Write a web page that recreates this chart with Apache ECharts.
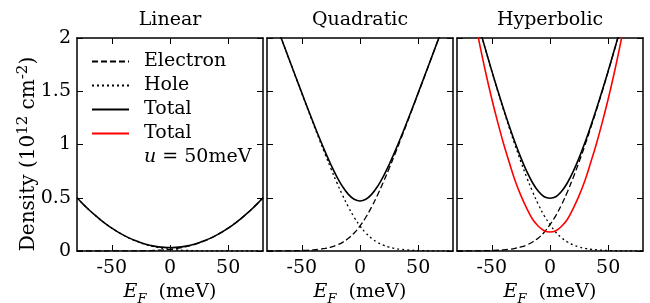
<!DOCTYPE html>
<html><head><meta charset="utf-8">
<script src="https://cdn.jsdelivr.net/npm/echarts@6/dist/echarts.min.js"></script>
<style>html,body{margin:0;padding:0;background:#fff}#c{width:650px;height:303px}</style>
</head><body><div id="c"></div>
<script>
const panelTitles = ['Linear', 'Quadratic', 'Hyperbolic'];
const xTicks = [-50, 0, 50];
const energy = [-80,-75,-70,-65,-60,-55,-50,-45,-40,-35,-30,-25,-20,-15,-10,-5,0,5,10,15,20,25,30,35,40,45,50,55,60,65,70,75,80];

const linElectron = [0,0,0.0001,0.0001,0.0001,0.0002,0.0003,0.0004,0.0006,0.0009,0.0014,0.0021,0.0033,0.0049,0.0074,0.0109,0.0159,0.0227,0.0317,0.0434,0.0578,0.0754,0.0962,0.1205,0.1482,0.1795,0.2144,0.2529,0.2950,0.3408,0.3901,0.4433,0.5000];
const linHole = [0.5000,0.4433,0.3901,0.3408,0.2950,0.2529,0.2144,0.1795,0.1482,0.1205,0.0962,0.0754,0.0578,0.0434,0.0317,0.0227,0.0159,0.0109,0.0074,0.0049,0.0033,0.0021,0.0014,0.0009,0.0006,0.0004,0.0003,0.0002,0.0001,0.0001,0.0001,0,0];
const linTotal = [0.500,0.443,0.390,0.341,0.295,0.253,0.215,0.180,0.149,0.121,0.098,0.078,0.061,0.048,0.039,0.034,0.032,0.034,0.039,0.048,0.061,0.078,0.098,0.121,0.149,0.180,0.215,0.253,0.295,0.341,0.390,0.443,0.500];

const quadElectron = [0.0003,0.0005,0.0008,0.0012,0.0018,0.0028,0.0044,0.0067,0.0103,0.0158,0.0241,0.0365,0.0549,0.0814,0.1187,0.1692,0.2350,0.3166,0.4134,0.5235,0.6444,0.7735,0.9084,1.0474,1.1894,1.3332,1.4782,1.6243,1.7705,1.9172,2.0643,2.2115,2.3587];
const quadHole = [2.3587,2.2115,2.0643,1.9172,1.7705,1.6243,1.4782,1.3332,1.1894,1.0474,0.9084,0.7735,0.6444,0.5235,0.4134,0.3166,0.2350,0.1692,0.1187,0.0814,0.0549,0.0365,0.0241,0.0158,0.0103,0.0067,0.0044,0.0028,0.0018,0.0012,0.0008,0.0005,0.0003];
const quadTotal = [2.359,2.212,2.065,1.918,1.772,1.627,1.483,1.340,1.200,1.063,0.933,0.810,0.699,0.605,0.532,0.486,0.470,0.486,0.532,0.605,0.699,0.810,0.933,1.063,1.200,1.340,1.483,1.627,1.772,1.918,2.065,2.212,2.359];

const hypElectron = [0.0003,0.0005,0.0008,0.0012,0.0019,0.0029,0.0045,0.0069,0.0106,0.0163,0.0249,0.0377,0.0568,0.0843,0.1232,0.1761,0.2480,0.3324,0.4365,0.5567,0.6906,0.8363,0.9915,1.1552,1.3256,1.5022,1.6844,1.8718,2.0642,2.2615,2.4632,2.6698,2.8807];
const hypHole = [2.8807,2.6698,2.4632,2.2615,2.0642,1.8718,1.6844,1.5022,1.3256,1.1552,0.9915,0.8363,0.6906,0.5567,0.4365,0.3324,0.2480,0.1761,0.1232,0.0843,0.0568,0.0377,0.0249,0.0163,0.0106,0.0069,0.0045,0.0029,0.0019,0.0012,0.0008,0.0005,0.0003];
const hypTotal = [2.881,2.670,2.464,2.263,2.066,1.875,1.689,1.509,1.336,1.172,1.016,0.874,0.747,0.641,0.560,0.509,0.496,0.509,0.560,0.641,0.747,0.874,1.016,1.172,1.336,1.509,1.689,1.875,2.066,2.263,2.464,2.670,2.881];
const hypTotalU50 = [3.05,2.75,2.46,2.185,1.915,1.66,1.425,1.21,1.01,0.83,0.66,0.52,0.40,0.298,0.232,0.19,0.178,0.19,0.232,0.298,0.40,0.52,0.66,0.83,1.01,1.21,1.425,1.66,1.915,2.185,2.46,2.75,3.05];

const FONT = 'DejaVu Serif';
const gridLeft = [77, 267, 457];
const gridW = 186, gridTop = 38, gridH = 213;

const pair = arr => energy.map((e, i) => [e, arr[i]]);
const lineAx = {show: true, onZero: false, lineStyle: {color: '#000', width: 1.5}};
const tickSt = {color: '#000', width: 1};

const xAxes = [], yAxes = [], grids = [];
gridLeft.forEach((l, i) => {
  grids.push({left: l, top: gridTop, width: gridW, height: gridH, containLabel: false, outerBoundsMode: 'none'});
  xAxes.push({type: 'value', gridIndex: i, min: -80, max: 80, position: 'bottom',
    axisLine: lineAx, splitLine: {show: false},
    axisTick: {inside: true, length: 6, customValues: xTicks, lineStyle: tickSt},
    axisLabel: {customValues: xTicks, margin: 8, fontSize: 19, fontFamily: FONT, color: '#000'},
    name: '{i|E}{sub|F}  (meV)', nameLocation: 'middle', nameGap: 21,
    nameTextStyle: {fontSize: 19, fontFamily: FONT, color: '#000',
      rich: {i: {fontSize: 19, fontFamily: FONT, fontStyle: 'italic', color: '#000'},
             sub: {fontSize: 13, fontFamily: FONT, fontStyle: 'italic', color: '#000', padding: [14, 0, 0, 0]}}}
  });
  xAxes.push({type: 'value', gridIndex: i, min: -80, max: 80, position: 'top',
    axisLine: lineAx, splitLine: {show: false},
    axisTick: {inside: true, length: 6, customValues: xTicks, lineStyle: tickSt},
    axisLabel: {show: false}
  });
  yAxes.push({type: 'value', gridIndex: i, min: 0, max: 2, interval: 0.5, position: 'left',
    axisLine: lineAx, splitLine: {show: false},
    axisTick: {inside: true, length: 6, lineStyle: tickSt},
    axisLabel: {show: i === 0, margin: 6, fontSize: 19, fontFamily: FONT, color: '#000'}
  });
  yAxes.push({type: 'value', gridIndex: i, min: 0, max: 2, interval: 0.5, position: 'right',
    axisLine: lineAx, splitLine: {show: false},
    axisTick: {inside: true, length: 6, lineStyle: tickSt},
    axisLabel: {show: false}
  });
});

const mk = (name, arr, i, type, color, width) => ({
  name, type: 'line', xAxisIndex: 2 * i, yAxisIndex: 2 * i, data: pair(arr),
  symbol: 'none', smooth: 0.4, clip: true, silent: true,
  lineStyle: {color, width, type}, itemStyle: {color}
});

const series = [
  mk('Electron', linElectron, 0, [6, 3], '#000', 1.3),
  mk('Hole', linHole, 0, [2, 3], '#000', 1.3),
  mk('Total', linTotal, 0, 'solid', '#000', 1.6),
  mk('Electron', quadElectron, 1, [6, 3], '#000', 1.3),
  mk('Hole', quadHole, 1, [2, 3], '#000', 1.3),
  mk('Total', quadTotal, 1, 'solid', '#000', 1.6),
  mk('Electron', hypElectron, 2, [6, 3], '#000', 1.3),
  mk('Hole', hypHole, 2, [2, 3], '#000', 1.3),
  mk('Total', hypTotal, 2, 'solid', '#000', 1.6),
  mk('Total ', hypTotalU50, 2, 'solid', '#ff0000', 1.6)
];

const graphics = panelTitles.map((t, i) => ({
  type: 'text', x: gridLeft[i] + gridW / 2, y: 20,
  style: {text: t, fontSize: 19, fontFamily: FONT, fill: '#000', align: 'center', verticalAlign: 'middle', textAlign: 'center', textVerticalAlign: 'middle'}
}));
graphics.push({
  type: 'text', x: 144, y: 157,
  style: {text: '{i|u} = 50meV', fontSize: 19, fontFamily: FONT, fill: '#000', align: 'left', verticalAlign: 'middle', textAlign: 'left', textVerticalAlign: 'middle',
    rich: {i: {fontSize: 19, fontFamily: FONT, fontStyle: 'italic', fill: '#000'}}}
});
graphics.push({
  type: 'text', x: 29, y: 154, rotation: Math.PI / 2,
  style: {text: 'Density (10{sup|12} cm{sup|-2})', fontSize: 20, fontFamily: FONT, fill: '#000', align: 'center', verticalAlign: 'middle', textAlign: 'center', textVerticalAlign: 'middle',
    rich: {sup: {fontSize: 15, fontFamily: FONT, fill: '#000', padding: [0, 0, 12, 0]}}}
});

const chart = echarts.init(document.getElementById('c'), null, {renderer: 'canvas'});
chart.setOption({
  animation: false,
  backgroundColor: '#fff',
  grid: grids, xAxis: xAxes, yAxis: yAxes, series,
  legend: {left: 91, top: 52, orient: 'vertical', itemWidth: 37, itemHeight: 14, itemGap: 5, padding: 0,
    selectedMode: false, data: ['Electron', 'Hole', 'Total', 'Total '],
    itemStyle: {opacity: 0, borderWidth: 0},
    textStyle: {fontFamily: FONT, fontSize: 19, color: '#000', lineHeight: 18, padding: [0, 0, 0, 10]}},
  graphic: graphics
});
</script></body></html>
